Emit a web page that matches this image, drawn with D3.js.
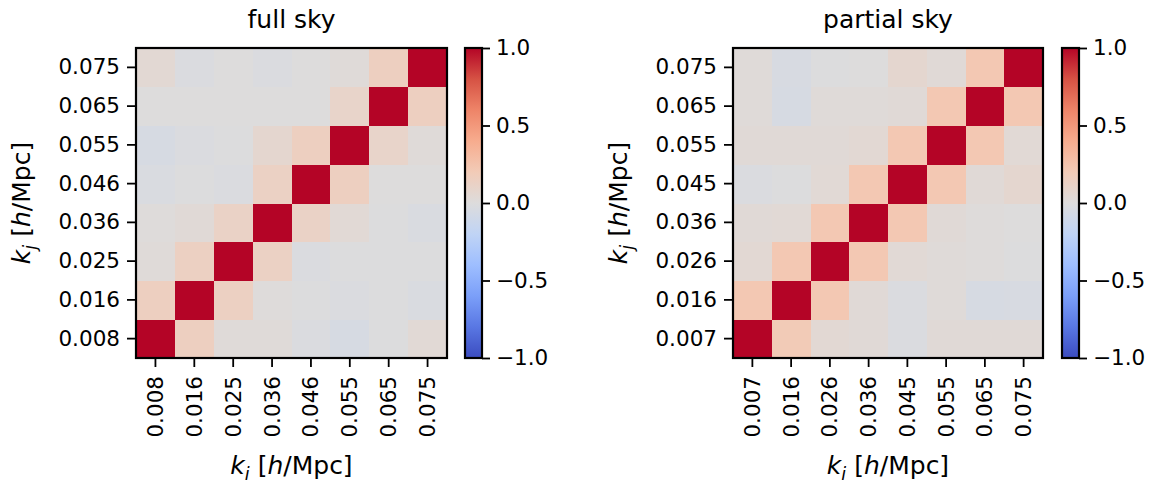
<!DOCTYPE html>
<html>
<head>
<meta charset="utf-8">
<script src="https://cdn.jsdelivr.net/npm/d3@7"></script>
<style>
  html, body { margin: 0; padding: 0; background: #fff; }
  svg { display: block; font-family: "DejaVu Sans", sans-serif; }
</style>
</head>
<body>
<svg id="chart" width="1158" height="482"></svg>
<script>
// ---------------- data ----------------
const kFull    = ["0.008", "0.016", "0.025", "0.036", "0.046", "0.055", "0.065", "0.075"];
const kPartial = ["0.007", "0.016", "0.026", "0.036", "0.045", "0.055", "0.065", "0.075"];

// correlation matrices; row index = k_j (bottom -> top), column index = k_i (left -> right)
const corrFull = [
  [ 1.00,  0.15,  0.02,  0.02, -0.02, -0.05, -0.01,  0.04],
  [ 0.15,  1.00,  0.14,  0.01, -0.01, -0.02, -0.01, -0.03],
  [ 0.02,  0.14,  1.00,  0.13, -0.02, -0.01, -0.01, -0.01],
  [ 0.01,  0.03,  0.12,  1.00,  0.12,  0.04, -0.01, -0.03],
  [-0.03, -0.01, -0.02,  0.13,  1.00,  0.15,  0.00,  0.00],
  [-0.05, -0.02, -0.01,  0.07,  0.15,  1.00,  0.10,  0.02],
  [ 0.00,  0.00,  0.00,  0.00,  0.00,  0.10,  1.00,  0.15],
  [ 0.05, -0.02,  0.00, -0.02,  0.00,  0.02,  0.15,  1.00]
];
const corrPartial = [
  [ 1.00,  0.20,  0.05,  0.03, -0.02,  0.03,  0.03,  0.03],
  [ 0.22,  1.00,  0.22,  0.03, -0.02,  0.02, -0.05, -0.04],
  [ 0.05,  0.22,  1.00,  0.22,  0.04,  0.02,  0.01, -0.01],
  [ 0.03,  0.04,  0.22,  1.00,  0.22,  0.03,  0.01,  0.00],
  [-0.02, -0.01,  0.04,  0.22,  1.00,  0.22,  0.03,  0.07],
  [ 0.03,  0.03,  0.03,  0.05,  0.22,  1.00,  0.22,  0.04],
  [ 0.02, -0.05,  0.02,  0.02,  0.03,  0.22,  1.00,  0.22],
  [ 0.02, -0.04, -0.01,  0.00,  0.07,  0.03,  0.22,  1.00]
];
const titles = ["full sky", "partial sky"];
const cbarTicks = [-1.0, -0.5, 0.0, 0.5, 1.0];

// matplotlib "coolwarm" samples at 0, 0.1, ..., 1
const coolwarmStops = ["#3b4cc0", "#5977e3", "#7b9ff9", "#9ebeff", "#c0d4f5", "#dddcdc",
                       "#f2cbb7", "#f7ac8e", "#ee8468", "#d65244", "#b40426"];

// ---------------- drawing ----------------
const svg = d3.select("#chart");
const color = d3.scaleLinear()
  .domain(d3.range(coolwarmStops.length).map(i => -1 + 2 * i / (coolwarmStops.length - 1)))
  .range(coolwarmStops)
  .interpolate(d3.interpolateRgb)
  .clamp(true);

const defs = svg.append("defs");
const grad = defs.append("linearGradient").attr("id", "cw")
  .attr("x1", 0).attr("y1", 1).attr("x2", 0).attr("y2", 0);
coolwarmStops.forEach((c, i) => {
  grad.append("stop").attr("offset", i / (coolwarmStops.length - 1)).attr("stop-color", c);
});

const panels = [
  { x0: 136, x1: 447, cb0: 465, cb1: 482, labels: kFull, mat: corrFull, title: titles[0] },
  { x0: 733, x1: 1043, cb0: 1062, cb1: 1079, labels: kPartial, mat: corrPartial, title: titles[1] }
];
const y0 = 48, y1 = 358;
const tickFont = 21.5, labelFont = 25;

function mathLabel(sel, sub) {
  sel.append("tspan").attr("font-style", "italic").text("k");
  sel.append("tspan").attr("font-style", "italic").attr("font-size", labelFont * 0.7)
    .attr("dy", labelFont * 0.22).text(sub);
  sel.append("tspan").attr("dy", -labelFont * 0.22).text(" [");
  sel.append("tspan").attr("font-style", "italic").text("h");
  sel.append("tspan").text("/Mpc]");
}

panels.forEach(p => {
  const g = svg.append("g");
  const x = d3.scaleBand().domain(p.labels).range([p.x0, p.x1]);
  const y = d3.scaleBand().domain(p.labels).range([y1, y0]);

  const cells = [];
  p.mat.forEach((row, j) => row.forEach((v, i) => cells.push({ i, j, v })));
  g.selectAll("rect.cell").data(cells).join("rect")
    .attr("class", "cell")
    .attr("x", d => x(p.labels[d.i]))
    .attr("y", d => y(p.labels[d.j]))
    .attr("width", x.bandwidth() + 0.5)
    .attr("height", y.bandwidth() + 0.5)
    .attr("fill", d => color(d.v))
    .attr("shape-rendering", "crispEdges");

  // frame
  g.append("rect").attr("x", p.x0).attr("y", y0)
    .attr("width", p.x1 - p.x0).attr("height", y1 - y0)
    .attr("fill", "none").attr("stroke", "#000").attr("stroke-width", 2.2);

  // y axis
  const ya = g.append("g").attr("transform", `translate(${p.x0 - 1},0)`)
    .call(d3.axisLeft(y).tickSize(8).tickPadding(7));
  ya.select(".domain").remove();
  ya.selectAll(".tick line").attr("stroke", "#000").attr("stroke-width", 1.8);
  ya.selectAll(".tick text").attr("font-size", tickFont).attr("fill", "#000")
    .attr("font-family", "DejaVu Sans");

  // x axis
  const xa = g.append("g").attr("transform", `translate(0,${y1 + 1})`)
    .call(d3.axisBottom(x).tickSize(8).tickPadding(7));
  xa.select(".domain").remove();
  xa.selectAll(".tick line").attr("stroke", "#000").attr("stroke-width", 1.8);
  xa.selectAll(".tick text").attr("font-size", tickFont).attr("fill", "#000")
    .attr("font-family", "DejaVu Sans")
    .attr("text-anchor", "end")
    .attr("transform", "rotate(-90)")
    .attr("x", -17).attr("y", 0).attr("dy", "0.35em");

  // title
  g.append("text").attr("x", (p.x0 + p.x1) / 2).attr("y", 28)
    .attr("text-anchor", "middle").attr("font-size", labelFont).text(p.title);

  // x label
  const xl = g.append("text").attr("x", (p.x0 + p.x1) / 2).attr("y", 474)
    .attr("text-anchor", "middle").attr("font-size", labelFont);
  mathLabel(xl, "i");

  // y label
  const yl = g.append("text")
    .attr("transform", `translate(${p.x0 - 106},${(y0 + y1) / 2}) rotate(-90)`)
    .attr("text-anchor", "middle").attr("font-size", labelFont);
  mathLabel(yl, "j");

  // colorbar
  const cy = d3.scaleLinear().domain([-1, 1]).range([y1, y0]);
  g.append("rect").attr("x", p.cb0).attr("y", y0)
    .attr("width", p.cb1 - p.cb0).attr("height", y1 - y0)
    .attr("fill", "url(#cw)").attr("stroke", "#000").attr("stroke-width", 2.2);
  const ca = g.append("g").attr("transform", `translate(${p.cb1},0)`)
    .call(d3.axisRight(cy).tickValues(cbarTicks).tickFormat(d3.format(".1f")).tickSize(8).tickPadding(6));
  ca.select(".domain").remove();
  ca.selectAll(".tick line").attr("stroke", "#000").attr("stroke-width", 1.8);
  ca.selectAll(".tick text").attr("font-size", tickFont).attr("fill", "#000")
    .attr("font-family", "DejaVu Sans");
});
</script>
</body>
</html>
